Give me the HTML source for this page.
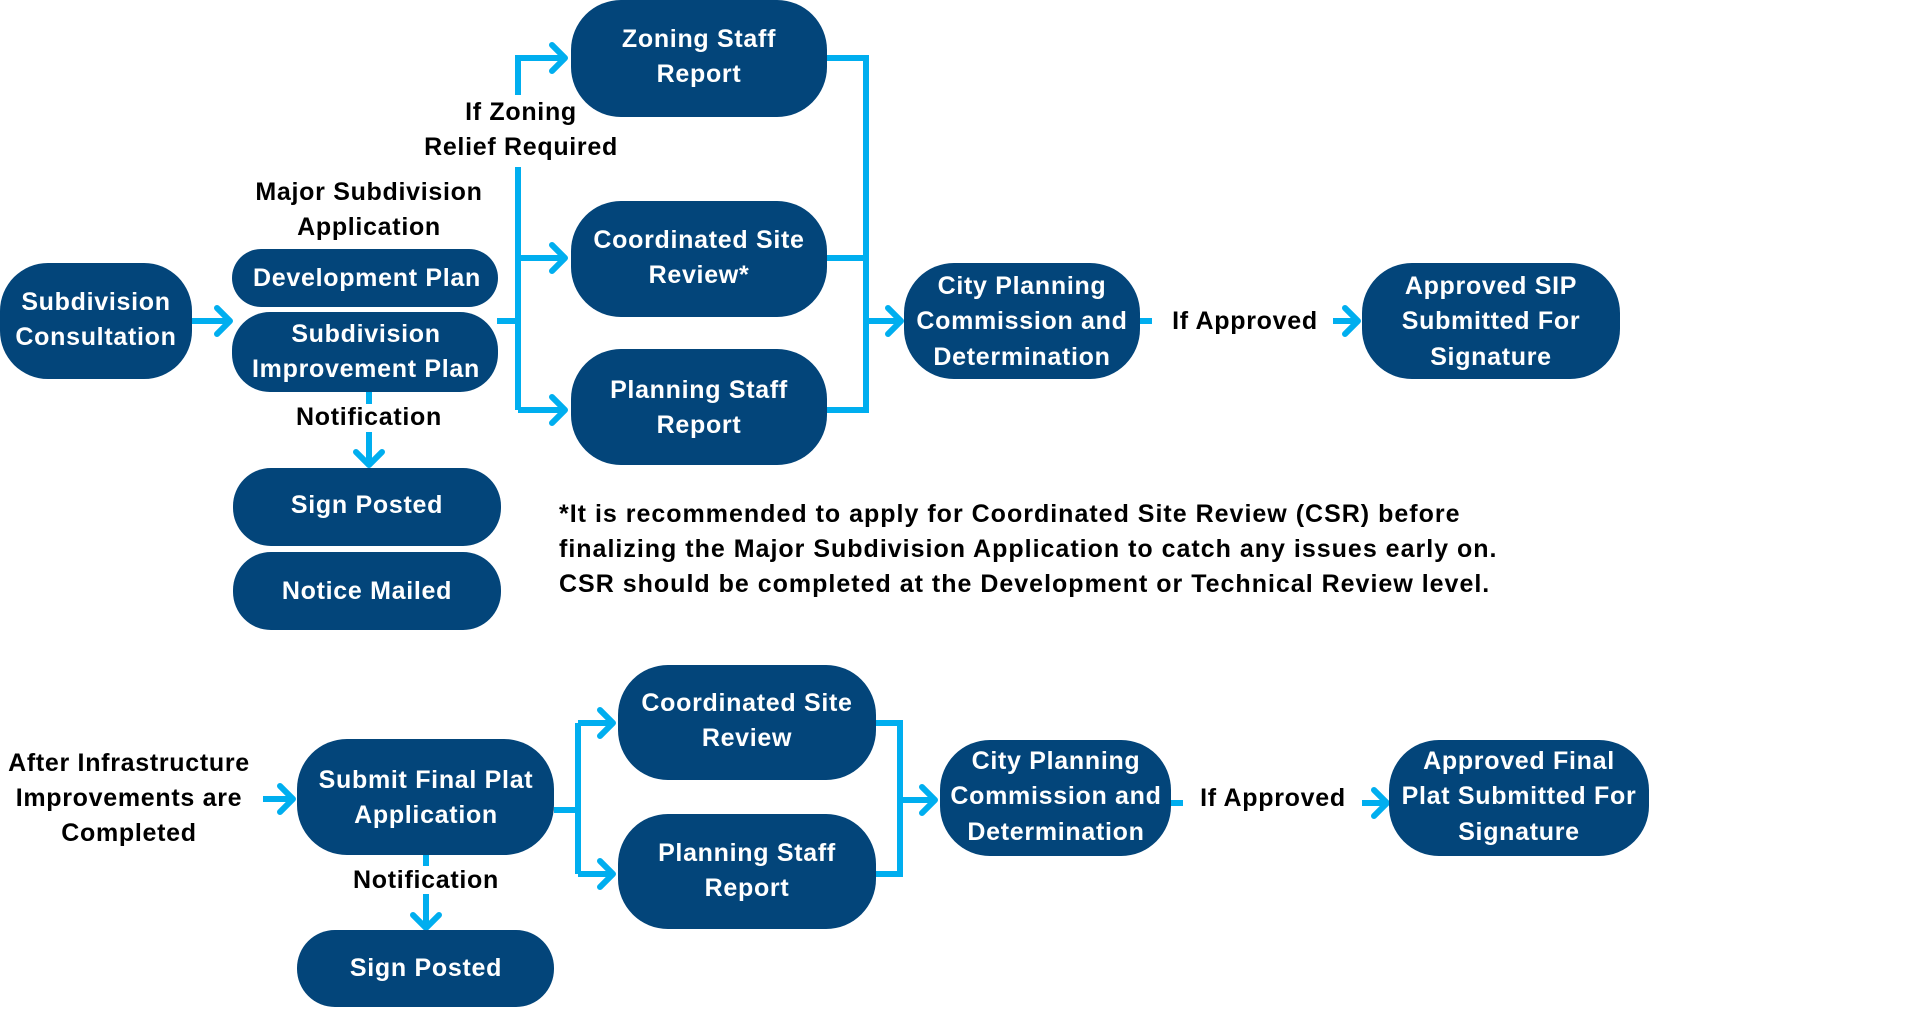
<!DOCTYPE html>
<html><head><meta charset="utf-8"><style>
html,body{margin:0;padding:0;background:#fff;}
svg{display:block;}
text{font-family:"Liberation Sans",sans-serif;font-weight:bold;font-size:25px;letter-spacing:0.7px;text-anchor:middle;}
.w{fill:#fff;}
.k{fill:#000;}
.b{fill:#03457a;}
.l{stroke:#00aeef;stroke-width:6;fill:none;}
.h{stroke:#00aeef;stroke-width:6;fill:none;stroke-linecap:round;stroke-linejoin:round;}
.f{text-anchor:start;letter-spacing:1.0px;}
</style></head><body>
<svg width="1920" height="1020" viewBox="0 0 1920 1020" xmlns="http://www.w3.org/2000/svg">
<!-- connectors top -->
<path class="l" d="M192 321H228"/><polyline class="h" points="217,308 230,321 217,334"/>
<path class="l" d="M497 321H518"/>
<path class="l" d="M518 167V410"/>
<path class="l" d="M518 95V58H562"/><polyline class="h" points="552,45 565,58 552,71"/>
<path class="l" d="M518 258H562"/><polyline class="h" points="552,245 565,258 552,271"/>
<path class="l" d="M518 410H562"/><polyline class="h" points="552,397 565,410 552,423"/>
<path class="l" d="M827 58H866V410H827M827 258H866"/>
<path class="l" d="M866 321H898"/><polyline class="h" points="888,308 901,321 888,334"/>
<path class="l" d="M369 392V404M369 432V462"/><polyline class="h" points="356,452 369,465 382,452"/>
<path class="l" d="M1140 321H1152M1333 321H1355"/><polyline class="h" points="1345,308 1358,321 1345,334"/>
<!-- connectors bottom -->
<path class="l" d="M263 799H290"/><polyline class="h" points="280,786 293,799 280,812"/>
<path class="l" d="M554 810H578M578 723V874M578 723H610M578 874H610"/>
<polyline class="h" points="600,710 613,723 600,736"/><polyline class="h" points="600,861 613,874 600,887"/>
<path class="l" d="M876 723H900V874H876M900 800H932"/><polyline class="h" points="922,787 935,800 922,813"/>
<path class="l" d="M426 855V866M426 894V925"/><polyline class="h" points="413,915 426,928 439,915"/>
<path class="l" d="M1171 803H1183M1362 803H1384"/><polyline class="h" points="1374,790 1387,803 1374,816"/>
<!-- boxes top -->
<rect class="b" x="0" y="263" width="192" height="116" rx="48"/>
<text class="w" x="96" y="310">Subdivision</text><text class="w" x="96" y="345">Consultation</text>
<rect class="b" x="232" y="249" width="266" height="58" rx="29"/>
<text class="w" x="367" y="286">Development Plan</text>
<rect class="b" x="232" y="312" width="266" height="80" rx="38"/>
<text class="w" x="366" y="342">Subdivision</text><text class="w" x="366" y="377">Improvement Plan</text>
<rect class="b" x="233" y="468" width="268" height="78" rx="38"/>
<text class="w" x="367" y="513">Sign Posted</text>
<rect class="b" x="233" y="552" width="268" height="78" rx="38"/>
<text class="w" x="367" y="599">Notice Mailed</text>
<rect class="b" x="571" y="0" width="256" height="117" rx="50"/>
<text class="w" x="699" y="47">Zoning Staff</text><text class="w" x="699" y="82">Report</text>
<rect class="b" x="571" y="201" width="256" height="116" rx="50"/>
<text class="w" x="699" y="248">Coordinated Site</text><text class="w" x="699" y="283">Review*</text>
<rect class="b" x="571" y="349" width="256" height="116" rx="50"/>
<text class="w" x="699" y="398">Planning Staff</text><text class="w" x="699" y="433">Report</text>
<rect class="b" x="904" y="263" width="236" height="116" rx="50"/>
<text class="w" x="1022" y="294">City Planning</text><text class="w" x="1022" y="329">Commission and</text><text class="w" x="1022" y="365">Determination</text>
<rect class="b" x="1362" y="263" width="258" height="116" rx="50"/>
<text class="w" x="1491" y="294">Approved SIP</text><text class="w" x="1491" y="329">Submitted For</text><text class="w" x="1491" y="365">Signature</text>
<!-- labels top -->
<text class="k" x="521" y="120">If Zoning</text><text class="k" x="521" y="155">Relief Required</text>
<text class="k" x="369" y="200">Major Subdivision</text><text class="k" x="369" y="235">Application</text>
<text class="k" x="369" y="425">Notification</text>
<text class="k" x="1245" y="329">If Approved</text>
<text class="k f" x="559" y="522">*It is recommended to apply for Coordinated Site Review (CSR) before</text>
<text class="k f" x="559" y="557">finalizing the Major Subdivision Application to catch any issues early on.</text>
<text class="k f" x="559" y="592">CSR should be completed at the Development or Technical Review level.</text>
<!-- bottom -->
<text class="k" x="129" y="771">After Infrastructure</text><text class="k" x="129" y="806">Improvements are</text><text class="k" x="129" y="841">Completed</text>
<rect class="b" x="297" y="739" width="257" height="116" rx="50"/>
<text class="w" x="426" y="788">Submit Final Plat</text><text class="w" x="426" y="823">Application</text>
<text class="k" x="426" y="888">Notification</text>
<rect class="b" x="297" y="930" width="257" height="77" rx="38"/>
<text class="w" x="426" y="976">Sign Posted</text>
<rect class="b" x="618" y="665" width="258" height="115" rx="50"/>
<text class="w" x="747" y="711">Coordinated Site</text><text class="w" x="747" y="746">Review</text>
<rect class="b" x="618" y="814" width="258" height="115" rx="50"/>
<text class="w" x="747" y="861">Planning Staff</text><text class="w" x="747" y="896">Report</text>
<rect class="b" x="940" y="740" width="231" height="116" rx="50"/>
<text class="w" x="1056" y="769">City Planning</text><text class="w" x="1056" y="804">Commission and</text><text class="w" x="1056" y="840">Determination</text>
<text class="k" x="1273" y="806">If Approved</text>
<rect class="b" x="1389" y="740" width="260" height="116" rx="50"/>
<text class="w" x="1519" y="769">Approved Final</text><text class="w" x="1519" y="804">Plat Submitted For</text><text class="w" x="1519" y="840">Signature</text>
</svg>
</body></html>
